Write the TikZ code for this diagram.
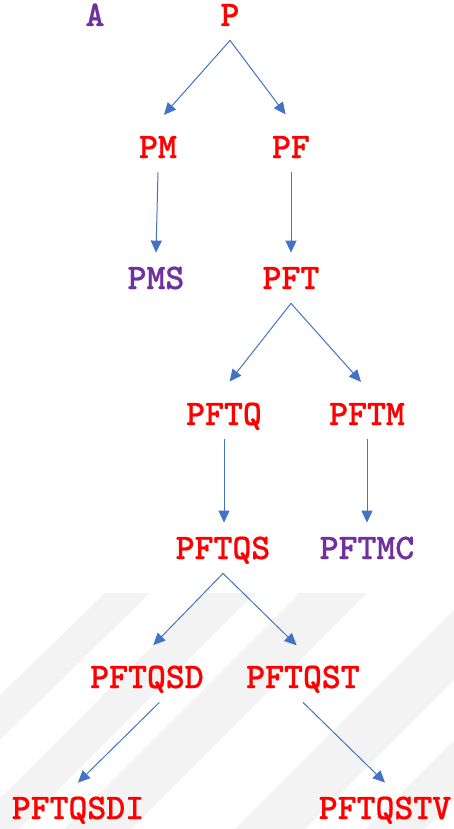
\documentclass[tikz,border=0pt]{standalone}
\usepackage{fontspec}
\newfontfamily\treefont[FakeBold=0.6]{lmmonolt10-bold.otf}
\usetikzlibrary{arrows.meta}
\definecolor{nodered}{HTML}{FF0000}
\definecolor{nodepurple}{HTML}{7030A0}
\definecolor{arrowblue}{HTML}{4472C4}
\definecolor{markgray}{HTML}{F3F3F3}
\begin{document}
\begin{tikzpicture}[
			x = 0.5pt, y = -0.5pt,
			every node/.style = {font = \fontsize{18}{18}\selectfont\treefont,
				text height = 11pt, text depth = 0pt, inner xsep = 2pt, inner ysep = 7pt},
			open/.style = {text = nodered},
			closed/.style = {text = nodepurple},
			link/.style = {draw = arrowblue, line width = 0.5pt,
				-{Triangle[length=6pt,width=5.5pt]}},
			fork/.style = {link, shorten > = 4.5pt}]

	\useasboundingbox (0,0) rectangle (454,829);

	\fill[markgray] (105,593) -- (150,593) -- (0,740) -- (0,695) -- cycle;
	\fill[markgray] (205,593) -- (255,593) -- (19,829) -- (0,829) -- (0,798) -- cycle;
	\fill[markgray] (300,593) -- (367,593) -- (131,829) -- (64,829) -- cycle;
	\fill[markgray] (454,610) -- (454,680) -- (305,829) -- (235,829) -- cycle;
	\fill[markgray] (454,740) -- (454,800) -- (425,829) -- (365,829) -- cycle;

	\node[closed] (A) at (95,15) {A};
	\node[open] (P) at (230,15) {P};
	\node[open] (PM) at (158,147) {PM};
	\node[open] (PF) at (291,147) {PF};
	\node[closed] (PMS) at (156,278) {PMS};
	\node[open] (PFT) at (291,278) {PFT};
	\node[open] (PFTQ) at (224,414) {PFTQ};
	\node[open] (PFTM) at (367,414) {PFTM};
	\node[open] (PFTQS) at (223,548) {PFTQS};
	\node[closed] (PFTMC) at (367,548) {PFTMC};
	\node[open] (PFTQSD) at (147,677) {PFTQSD};
	\node[open] (PFTQST) at (303,677) {PFTQST};
	\node[open] (PFTQSDI) at (78,808) {PFTQSDI};
	\node[open] (PFTQSTV) at (385,808) {PFTQSTV};

	\draw[fork] (P.south) -- (PM.north);
	\draw[fork] (P.south) -- (PF.north);
	\draw[link] (PM.south) -- (PMS.north);
	\draw[link] (PF.south) -- (PFT.north);
	\draw[fork] (PFT.south) -- (PFTQ.north);
	\draw[fork] (PFT.south) -- (PFTM.north);
	\draw[link] (PFTQ.south) -- (PFTQ.south |- PFTQS.north);
	\draw[link] (PFTM.south) -- (PFTM.south |- PFTMC.north);
	\draw[fork] (PFTQS.south) -- (PFTQSD.north);
	\draw[fork] (PFTQS.south) -- (PFTQST.north);
	\draw[link] (PFTQSD.-64) -- (PFTQSDI.north);
	\draw[link] (PFTQST.south) -- (PFTQSTV.north);

\end{tikzpicture}
\end{document}
